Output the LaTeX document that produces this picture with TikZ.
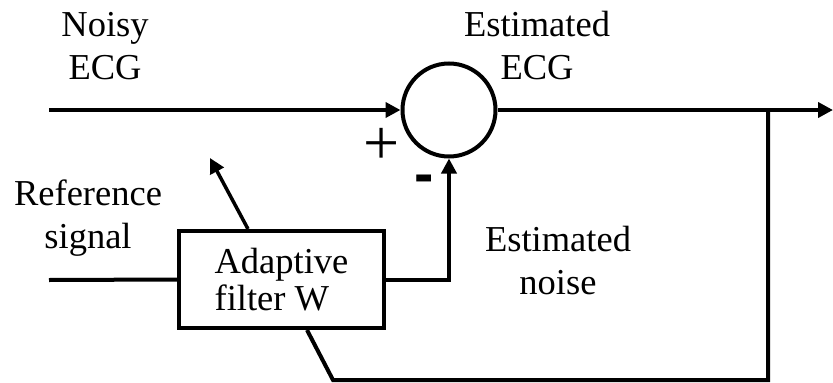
\documentclass[tikz,border=0pt]{standalone}
\usepackage{fontspec}
\usepackage{tikz}
\usepackage{xcolor}
\usetikzlibrary{arrows.meta, positioning, calc}
\setmainfont{Liberation Serif}
\setsansfont{Liberation Sans}
\definecolor{darktext}{HTML}{000000}

\begin{document}
\begin{tikzpicture}[x=1pt, y=-1pt,
        wire/.style={line width=4pt, darktext},
        tip/.style={-{Triangle[length=15pt, width=15pt]}},
        label/.style={font=\fontsize{36.5}{43}\selectfont, align=center, inner sep=0pt},
        sumnode/.style={circle, draw, line width=4pt, minimum size=93pt, inner sep=0pt},
        filtbox/.style={rectangle, draw, line width=4pt, minimum width=205pt, minimum height=97pt,
            align=left, inner sep=0pt, font=\fontsize{36.5}{37}\selectfont}]
    \useasboundingbox (0,0) rectangle (833,383);
    % blocks
    \node[sumnode] (sum) at (449,110) {};
    \node[filtbox] (filt) at (281.5,279.5) {Adaptive\\filter W};
    % free ends
    \coordinate (noisyin) at (49,110);
    \coordinate (out) at (833,110);
    \coordinate (tap) at (768,110);
    \coordinate (refin) at (49,280);
    \coordinate (botr) at (768,380);
    \coordinate (botl) at (333,380);
    \coordinate (fbin) at (307,330);
    \coordinate (adtail) at (248,229);
    \coordinate (adtip) at (210,158);
    % signal paths
    \draw[wire, tip] (noisyin) -- (sum.west);
    \draw[wire, tip] (sum.east) -- (out);
    \draw[wire] (refin) -- (filt.west);
    \draw[wire, tip] (filt.east) -| (sum.south);
    \draw[wire] (tap) -- (botr) -- (botl) -- (fbin);
    \draw[line width=3.5pt, tip] (adtail) -- (adtip);
    % labels
    \node[label] (noisylbl) at (105,46) {Noisy\\ECG};
    \node[label] (estecg) at (537,46) {Estimated\\ECG};
    \node[label] (reflbl) at (88,218) {Reference\\signal};
    \node[label] (estnoise) at (558,261) {Estimated\\noise};
    \node[inner sep=0pt, font=\fontsize{64}{64}\selectfont] (plus) at (382,146) {+};
    \node[inner sep=0pt, font=\sffamily\bfseries\fontsize{58}{58}\selectfont] (minus) at (424,184) {-};
\end{tikzpicture}
\end{document}
